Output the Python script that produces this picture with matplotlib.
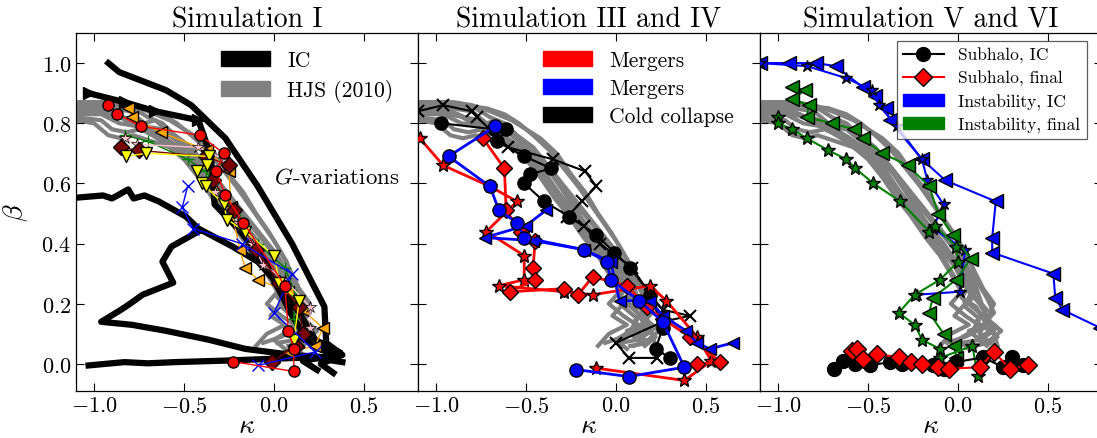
import matplotlib
matplotlib.use("Agg")
import matplotlib.pyplot as plt
from matplotlib.patches import Patch
from matplotlib.lines import Line2D

plt.rcParams['font.family'] = 'serif'
plt.rcParams['font.serif'] = ['cmr10']
plt.rcParams['mathtext.fontset'] = 'cm'
plt.rcParams['axes.formatter.use_mathtext'] = True

# ---- HJS (2010) gray tracks, shared by all panels ----
hjs_k = [
    [-1.10, -0.95, -0.85, -0.78, -0.70, -0.62, -0.55, -0.46, -0.38, -0.30, -0.22, -0.14, -0.06, 0.02, 0.08, 0.12, 0.16, 0.12, 0.18, 0.08],
    [-1.10, -0.92, -0.80, -0.72, -0.66, -0.58, -0.50, -0.42, -0.34, -0.26, -0.18, -0.10, -0.02, 0.04, 0.10, 0.06, 0.14, 0.20, 0.12, 0.02],
    [-1.10, -0.96, -0.90, -0.82, -0.74, -0.64, -0.54, -0.44, -0.36, -0.28, -0.20, -0.12, -0.04, 0.02, 0.10, 0.16, 0.10, 0.20, 0.22],
    [-1.10, -1.00, -0.92, -0.85, -0.78, -0.68, -0.58, -0.48, -0.40, -0.32, -0.24, -0.16, -0.08, 0.00, 0.06, 0.02, 0.10, 0.16, 0.06, 0.14],
    [-1.10, -0.88, -0.72, -0.62, -0.54, -0.46, -0.37, -0.29, -0.21, -0.14, -0.07, 0.00, 0.07, 0.11, 0.16, 0.20, 0.14, 0.22, 0.16],
    [-1.10, -0.94, -0.84, -0.76, -0.68, -0.60, -0.52, -0.44, -0.36, -0.28, -0.20, -0.12, -0.06, 0.00, 0.04, -0.02, 0.06, -0.04, -0.10],
    [-1.10, -0.92, -0.80, -0.72, -0.62, -0.54, -0.46, -0.38, -0.30, -0.22, -0.14, -0.06, 0.02, 0.08, 0.04, 0.12, 0.08, 0.00, 0.06],
    [-1.10, -0.96, -0.86, -0.76, -0.66, -0.58, -0.48, -0.40, -0.32, -0.24, -0.16, -0.08, 0.00, 0.06, 0.12, 0.18, 0.24, 0.18, 0.10],
    [-1.10, -0.98, -0.88, -0.80, -0.70, -0.60, -0.50, -0.42, -0.34, -0.26, -0.18, -0.10, -0.04, 0.02, -0.04, 0.04, 0.14, 0.04, -0.06],
    [-1.10, -0.90, -0.80, -0.70, -0.58, -0.50, -0.42, -0.33, -0.25, -0.17, -0.10, -0.03, 0.03, 0.09, 0.14, 0.20, 0.16, 0.22, 0.12],
]
hjs_b = [
    [0.87, 0.87, 0.86, 0.85, 0.82, 0.80, 0.76, 0.72, 0.66, 0.60, 0.54, 0.48, 0.42, 0.36, 0.29, 0.22, 0.15, 0.10, 0.07, 0.06],
    [0.85, 0.85, 0.84, 0.80, 0.81, 0.77, 0.73, 0.67, 0.62, 0.55, 0.50, 0.44, 0.38, 0.31, 0.25, 0.20, 0.16, 0.11, 0.08, 0.07],
    [0.82, 0.81, 0.78, 0.77, 0.78, 0.75, 0.71, 0.66, 0.60, 0.53, 0.47, 0.41, 0.35, 0.28, 0.22, 0.18, 0.14, 0.10, 0.06],
    [0.81, 0.80, 0.76, 0.75, 0.76, 0.74, 0.72, 0.69, 0.64, 0.57, 0.51, 0.46, 0.40, 0.33, 0.26, 0.22, 0.19, 0.13, 0.11, 0.07],
    [0.86, 0.86, 0.85, 0.83, 0.80, 0.76, 0.71, 0.65, 0.59, 0.53, 0.47, 0.41, 0.34, 0.27, 0.22, 0.17, 0.13, 0.09, 0.06],
    [0.84, 0.83, 0.82, 0.81, 0.78, 0.75, 0.71, 0.65, 0.59, 0.52, 0.45, 0.39, 0.33, 0.27, 0.20, 0.16, 0.13, 0.10, 0.06],
    [0.86, 0.84, 0.81, 0.79, 0.78, 0.74, 0.70, 0.65, 0.58, 0.51, 0.44, 0.38, 0.32, 0.25, 0.19, 0.15, 0.11, 0.08, 0.05],
    [0.83, 0.83, 0.80, 0.79, 0.77, 0.74, 0.70, 0.63, 0.56, 0.49, 0.43, 0.37, 0.31, 0.24, 0.20, 0.14, 0.11, 0.08, 0.06],
    [0.85, 0.84, 0.83, 0.80, 0.77, 0.73, 0.68, 0.62, 0.55, 0.49, 0.42, 0.36, 0.30, 0.24, 0.20, 0.16, 0.12, 0.09, 0.07],
    [0.87, 0.87, 0.86, 0.84, 0.81, 0.78, 0.75, 0.70, 0.63, 0.57, 0.50, 0.44, 0.38, 0.31, 0.25, 0.20, 0.15, 0.12, 0.09],
]

# ---- Simulation I: IC tracks (thick black) ----
ic_k = [
    [-0.92, -0.86, -0.60, -0.46, -0.27, -0.09, 0.10, 0.28, 0.29, 0.38, 0.26, 0.33],
    [-1.03, -0.83, -0.66, -0.42, -0.35, -0.33, -0.20, -0.05, 0.10, 0.21, 0.34, 0.16, 0.24],
    [-1.15, -0.95, -0.90, -0.81, -0.78, -0.72, -0.64, -0.58, -0.49, -0.42, -0.23, -0.09, 0.03, 0.14, 0.23, 0.36],
    [-0.42, -0.57, -0.62, -0.56, -0.73, -0.80, -0.85, -0.96, -0.79, -0.60, -0.36, -0.16, 0.10, 0.34],
    [-1.03, -0.83, -0.70, -0.55, -0.27, -0.01, 0.21, 0.38],
]
ic_b = [
    [1.00, 0.97, 0.91, 0.86, 0.75, 0.59, 0.40, 0.19, 0.07, 0.03, 0.00, -0.03],
    [0.90, 0.87, 0.84, 0.81, 0.69, 0.53, 0.45, 0.34, 0.16, 0.06, 0.03, 0.01, -0.02],
    [0.55, 0.56, 0.55, 0.58, 0.55, 0.56, 0.54, 0.52, 0.49, 0.45, 0.39, 0.34, 0.26, 0.17, 0.08, 0.04],
    [0.44, 0.39, 0.34, 0.27, 0.23, 0.20, 0.18, 0.14, 0.13, 0.11, 0.08, 0.05, 0.03, 0.02],
    [-0.005, 0.006, 0.002, 0.006, 0.011, 0.017, 0.022, 0.006],
]

# ---- Simulation I: G-variations ----
g_red_k = [-0.92, -0.87, -0.74, -0.41, -0.28, -0.32, -0.27, -0.17, 0.06, 0.08, 0.11, 0.11, -0.23]
g_red_b = [0.86, 0.83, 0.79, 0.76, 0.70, 0.64, 0.56, 0.47, 0.26, 0.11, 0.05, -0.025, 0.008]
g_orange_k = [-0.81, -0.79, -0.63, -0.37, -0.25, -0.24, -0.19, -0.16, -0.09, 0.08, 0.16, 0.27, 0.23, 0.08]
g_orange_b = [0.85, 0.82, 0.77, 0.71, 0.64, 0.52, 0.38, 0.32, 0.28, 0.24, 0.18, 0.12, 0.06, 0.04]
g_green_k = [-0.83, -0.70, -0.48, -0.38, -0.19, -0.09, 0.06, 0.12, 0.11]
g_green_b = [0.76, 0.74, 0.68, 0.64, 0.48, 0.40, 0.32, 0.23, 0.15]
g_pink_k = [-0.83, -0.76, -0.42, -0.28, -0.33, -0.20, -0.12, -0.06, 0.06, 0.20, 0.20, 0.14]
g_pink_b = [0.75, 0.73, 0.72, 0.68, 0.57, 0.47, 0.40, 0.33, 0.28, 0.19, 0.12, 0.05]
g_dred_k = [-0.85, -0.75, -0.38, -0.25, -0.34, -0.22, -0.10, 0.03, 0.14, 0.16, 0.12, -0.01]
g_dred_b = [0.72, 0.71, 0.69, 0.66, 0.61, 0.51, 0.38, 0.27, 0.19, 0.10, 0.06, 0.006]
g_yellow_k = [-0.82, -0.71, -0.36, -0.37, -0.43, -0.40, -0.38, -0.28, -0.26, -0.16, 0.00, 0.03, 0.14, 0.11]
g_yellow_b = [0.69, 0.70, 0.69, 0.66, 0.64, 0.60, 0.59, 0.53, 0.48, 0.44, 0.36, 0.27, 0.21, 0.08]
g_blue_k = [-0.48, -0.51, -0.45, -0.18, 0.10, 0.00, 0.23, -0.09]
g_blue_b = [0.59, 0.52, 0.45, 0.40, 0.30, 0.17, 0.04, -0.005]

# ---- Simulation III and IV ----
m_red1_k = [-1.09, -0.96, -0.70, -0.55, -0.72, -0.51, -0.51, -0.65, -0.29, -0.13, 0.19, 0.28, 0.45, 0.53, 0.38, -0.11]
m_red1_b = [0.75, 0.66, 0.59, 0.54, 0.44, 0.36, 0.28, 0.26, 0.24, 0.23, 0.26, 0.21, 0.09, 0.01, -0.055, -0.014]
m_red2_k = [-0.74, -0.62, -0.61, -0.53, -0.45, -0.46, -0.45, -0.59, -0.29, -0.21, -0.13, 0.06, 0.17, 0.26, 0.41, 0.58, 0.45]
m_red2_b = [0.75, 0.65, 0.51, 0.44, 0.41, 0.32, 0.28, 0.24, 0.25, 0.23, 0.29, 0.26, 0.19, 0.15, 0.09, 0.006, 0.0]
m_blue1_k = [-0.67, -0.93, -0.70, -0.65, -0.55, -0.51, -0.18, -0.05, -0.03, 0.13, 0.26, 0.38, 0.07, -0.22]
m_blue1_b = [0.79, 0.69, 0.59, 0.51, 0.47, 0.42, 0.38, 0.34, 0.28, 0.21, 0.14, -0.011, -0.042, -0.019]
m_blue2_k = [-0.39, -0.50, -0.73, -0.46, -0.18, -0.03, 0.02, 0.19, 0.26, 0.39, 0.45, 0.52, 0.65]
m_blue2_b = [0.51, 0.46, 0.42, 0.41, 0.38, 0.34, 0.21, 0.21, 0.16, 0.11, 0.07, 0.05, 0.07]
cold1_k = [-0.97, -0.68, -0.61, -0.66, -0.51, -0.36, -0.48, -0.51, -0.40, -0.26, -0.11, -0.01, 0.08, 0.19, 0.26, 0.22, 0.30]
cold1_b = [0.80, 0.78, 0.78, 0.74, 0.69, 0.65, 0.63, 0.60, 0.54, 0.49, 0.43, 0.37, 0.32, 0.23, 0.12, 0.05, 0.02]
cold2_k = [-1.10, -0.96, -0.80, -0.77, -0.60, -0.35, -0.17, -0.11, -0.19, -0.27, -0.18, -0.09, 0.09, 0.19, 0.26, 0.41, 0.26, 0.00, 0.07, 0.23]
cold2_b = [0.84, 0.86, 0.84, 0.82, 0.72, 0.68, 0.64, 0.59, 0.54, 0.49, 0.46, 0.40, 0.32, 0.23, 0.18, 0.16, 0.14, 0.07, 0.02, 0.02]

# ---- Simulation V and VI ----
inst_ic1_k = [-1.10, -0.94, -0.79, -0.68, -0.53, -0.46, -0.40, -0.38, -0.20, -0.07, 0.21, 0.19, 0.19, 0.53, 0.54, 0.58, 0.79]
inst_ic1_b = [1.00, 1.00, 1.00, 0.99, 0.92, 0.89, 0.85, 0.81, 0.68, 0.61, 0.54, 0.42, 0.37, 0.30, 0.22, 0.18, 0.12]
inst_ic2_k = [-1.10, -0.84, -0.62, -0.48, -0.44, -0.34, -0.20, -0.17, -0.08, -0.14, 0.04, 0.01, -0.23]
inst_ic2_b = [1.00, 0.99, 0.95, 0.91, 0.86, 0.79, 0.68, 0.61, 0.53, 0.45, 0.38, 0.24, 0.23]
inst_f1_k = [-0.92, -0.85, -0.92, -0.83, -0.84, -0.70, -0.58, -0.53, -0.42, -0.28, -0.16, -0.11, -0.03, 0.07, -0.01, -0.14, -0.16, -0.08, -0.02, -0.01]
inst_f1_b = [0.92, 0.91, 0.88, 0.86, 0.82, 0.80, 0.78, 0.75, 0.70, 0.66, 0.59, 0.50, 0.43, 0.35, 0.28, 0.22, 0.17, 0.10, 0.06, 0.02]
inst_f2_k = [-1.00, -1.00, -0.92, -0.84, -0.72, -0.62, -0.57, -0.47, -0.32, -0.16, -0.13, -0.01, 0.00, -0.10, -0.24, -0.33, -0.24, -0.20, -0.10, -0.10, 0.08, 0.11]
inst_f2_b = [0.82, 0.80, 0.78, 0.75, 0.71, 0.68, 0.65, 0.60, 0.54, 0.44, 0.46, 0.39, 0.34, 0.28, 0.23, 0.17, 0.13, 0.08, 0.05, 0.02, 0.06, -0.04]
sub_ic_k = [-0.69, -0.64, -0.57, -0.49, -0.38, -0.31, -0.14, -0.08, -0.01, 0.14, 0.25, 0.30, 0.36]
sub_ic_b = [-0.016, 0.011, 0.0, -0.005, 0.006, 0.0, -0.005, -0.016, 0.006, 0.022, -0.011, 0.022, -0.005]
sub_f_k = [-0.59, -0.56, -0.53, -0.45, -0.33, -0.26, -0.20, -0.11, -0.05, 0.12, 0.20, 0.29, 0.39]
sub_f_b = [0.044, 0.050, 0.017, 0.033, 0.022, 0.006, 0.0, -0.011, -0.016, -0.011, 0.039, -0.016, -0.005]


def track(ax, k, b, color, marker, ms, lw, mfc=None, mec='k', mew=1.0, z=3):
    ax.plot(k, b, color=color, lw=lw, marker=marker, ms=ms,
            mfc=mfc if mfc else color, mec=mec, mew=mew, zorder=z)


fig = plt.figure(figsize=(10.97, 4.39), dpi=100)
W, H = 1097.0, 439.0
axw = 342 / W
axb = 47 / H
axh = 358 / H
axes = [fig.add_axes([x / W, axb, axw, axh]) for x in (76, 418, 760)]

for ax in axes:
    for k, b in zip(hjs_k, hjs_b):
        ax.plot(k, b, color='gray', lw=3, zorder=1)
    ax.set_xlim(-1.1, 0.8)
    ax.set_ylim(-0.09, 1.1)
    ax.set_xticks([-1.0, -0.5, 0.0, 0.5])
    ax.set_yticks([0.0, 0.2, 0.4, 0.6, 0.8, 1.0])
    ax.tick_params(direction='in', top=True, right=True, length=5.5, width=0.8, labelsize=16)
    ax.set_xlabel(r'$\kappa$', fontsize=20, labelpad=-3)
    for s in ax.spines.values():
        s.set_linewidth(0.9)

ax1, ax2, ax3 = axes
ax2.tick_params(labelleft=False)
ax3.tick_params(labelleft=False)
ax1.set_ylabel(r'$\beta$', fontsize=20, labelpad=8)

# Simulation I
for k, b in zip(ic_k, ic_b):
    ax1.plot(k, b, color='k', lw=4.5, zorder=2)
ax1.plot(ic_k[1][:4], ic_b[1][:4], ls='none', marker='>', ms=9, color='k', zorder=2)
track(ax1, g_orange_k, g_orange_b, 'orange', '<', 8, 1.0)
track(ax1, g_green_k, g_green_b, 'green', '+', 9, 1.0, mec='green')
track(ax1, g_pink_k, g_pink_b, 'pink', '*', 9, 1.0, mec='k', mew=0.5)
track(ax1, g_dred_k, g_dred_b, '#7a0000', 'D', 8, 1.0)
track(ax1, g_yellow_k, g_yellow_b, 'yellow', 'v', 8, 1.0)
track(ax1, g_blue_k, g_blue_b, 'blue', 'x', 8, 1.0, mec='blue')
track(ax1, g_red_k, g_red_b, 'red', 'o', 8, 1.0)
ax1.text(0.0, 0.624, r'$G$-variations', fontsize=16.5, va='center', ha='left')
ax1.set_title('Simulation I', fontsize=20, pad=5)
ax1.legend(handles=[Patch(fc='k', ec='k', label='IC'),
                    Patch(fc='gray', ec='gray', label='HJS (2010)')],
           loc='upper left', bbox_to_anchor=(0.398, 0.975), frameon=False,
           fontsize=15.5, handlelength=2.3, labelspacing=0.4,
           borderaxespad=0, handletextpad=0.8)

# Simulation III and IV
track(ax2, cold2_k, cold2_b, 'k', 'x', 9, 1.5, mec='k', mew=1.5)
track(ax2, cold1_k, cold1_b, 'k', 'o', 9.5, 1.5)
track(ax2, m_red1_k, m_red1_b, 'red', '*', 10, 2.0, mfc='red', mec='k')
track(ax2, m_red2_k, m_red2_b, 'red', 'D', 8, 2.0)
track(ax2, m_blue2_k, m_blue2_b, 'blue', '<', 9, 2.0)
track(ax2, m_blue1_k, m_blue1_b, 'blue', 'o', 9.5, 2.0)
ax2.set_title('Simulation III and IV', fontsize=20, pad=5)
ax2.legend(handles=[Patch(fc='red', ec='red', label='Mergers'),
                    Patch(fc='blue', ec='blue', label='Mergers'),
                    Patch(fc='k', ec='k', label='Cold collapse')],
           loc='upper left', bbox_to_anchor=(0.339, 0.975), frameon=False,
           fontsize=15.5, handlelength=2.3, labelspacing=0.4,
           borderaxespad=0, handletextpad=0.8)

# Simulation V and VI
track(ax3, inst_ic1_k, inst_ic1_b, 'blue', '<', 10, 1.5)
track(ax3, inst_ic2_k, inst_ic2_b, 'blue', '*', 9, 1.5, mfc='blue', mec='k')
track(ax3, inst_f1_k, inst_f1_b, 'green', '<', 10, 1.5)
track(ax3, inst_f2_k, inst_f2_b, 'green', '*', 10, 1.5, mfc='green', mec='k')
track(ax3, sub_ic_k, sub_ic_b, 'k', 'o', 10, 1.5)
track(ax3, sub_f_k, sub_f_b, 'red', 'D', 9, 1.5)
ax3.set_title('Simulation V and VI', fontsize=20, pad=5)
leg = ax3.legend(handles=[Line2D([], [], color='k', lw=1.5, marker='o', ms=10, mec='k', label='Subhalo, IC'),
                          Line2D([], [], color='red', lw=1.5, marker='D', ms=9, mfc='red', mec='k', label='Subhalo, final'),
                          Patch(fc='blue', ec='blue', label='Instability, IC'),
                          Patch(fc='green', ec='green', label='Instability, final')],
                 loc='upper left', bbox_to_anchor=(0.40, 0.978), frameon=True,
                 fancybox=False, edgecolor='0.2', fontsize=12.5, handlelength=2.35,
                 labelspacing=0.4, borderaxespad=0, handletextpad=0.85, borderpad=0.35)
leg.get_frame().set_linewidth(0.9)
leg.set_zorder(10)

fig.savefig('out.png', dpi=100)
